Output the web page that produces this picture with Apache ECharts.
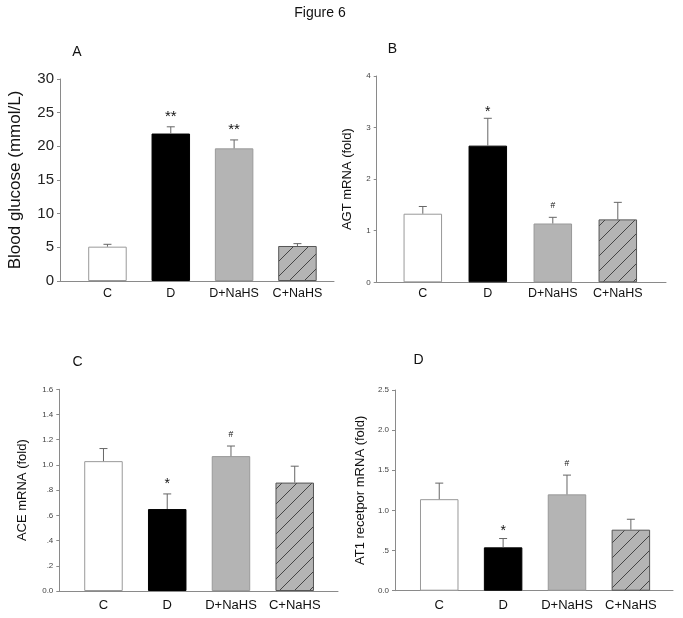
<!DOCTYPE html>
<html lang="en">
<head>
<meta charset="UTF-8">
<title>Figure 6</title>
<script src="https://cdn.jsdelivr.net/npm/echarts@6.0.0/dist/echarts.min.js"></script>
<style>
  html, body { margin: 0; padding: 0; background: #fff; }
  #main { width: 683px; height: 618px; }
</style>
</head>
<body>
<div id="main"></div>
<script>
// groups on the x axis
var categories = ['C', 'D', 'D+NaHS', 'C+NaHS'];

// A: blood glucose (mmol/L)
var glucose = [5.1, 21.9, 19.7, 5.2];
var glucoseErr = [0.35, 1.0, 1.25, 0.35];
var glucoseMarks = ['', '**', '**', ''];
var glucoseTicks = ['0', '5', '10', '15', '20', '25', '30'];

// B: AGT mRNA (fold)
var agt = [1.33, 2.65, 1.14, 1.22];
var agtErr = [0.14, 0.53, 0.12, 0.33];
var agtMarks = ['', '*', '#', ''];
var agtTicks = ['0', '1', '2', '3', '4'];

// C: ACE mRNA (fold)
var ace = [1.03, 0.65, 1.07, 0.86];
var aceErr = [0.10, 0.12, 0.08, 0.13];
var aceMarks = ['', '*', '#', ''];
var aceTicks = ['0.0', '.2', '.4', '.6', '.8', '1.0', '1.2', '1.4', '1.6'];

// D: AT1 receptor mRNA (fold)
var at1 = [1.14, 0.54, 1.20, 0.76];
var at1Err = [0.20, 0.11, 0.24, 0.13];
var at1Marks = ['', '*', '#', ''];
var at1Ticks = ['0.0', '.5', '1.0', '1.5', '2.0', '2.5'];

var FONT = '"Liberation Sans", Arial, sans-serif';
var AXIS_COLOR = '#8a8a8a';

// diagonal hatch for the last bar
function hatch() {
  var s = 15;
  var c = document.createElement('canvas');
  c.width = s; c.height = s;
  var ctx = c.getContext('2d');
  ctx.fillStyle = '#b4b4b4';
  ctx.fillRect(0, 0, s, s);
  ctx.strokeStyle = '#444';
  ctx.lineWidth = 1;
  ctx.beginPath();
  ctx.moveTo(-1, s + 1); ctx.lineTo(s + 1, -1);
  ctx.moveTo(-1, 1); ctx.lineTo(1, -1);
  ctx.moveTo(s - 1, s + 1); ctx.lineTo(s + 1, s - 1);
  ctx.stroke();
  return c;
}
var hatchPattern = { image: hatch(), repeat: 'repeat' };

var barStyles = [
  { color: '#fff', borderColor: '#999', borderWidth: 1 },
  { color: '#000', borderColor: '#000', borderWidth: 1 },
  { color: '#b4b4b4', borderColor: '#999', borderWidth: 1 },
  { color: hatchPattern, borderColor: '#555', borderWidth: 1 }
];

// panel frames: outer = axis lines, inner = category bands
var panels = [
  { values: glucose, err: glucoseErr, marks: glucoseMarks, ticks: glucoseTicks,
    max: 30, interval: 5, name: 'Blood glucose (mmol/L)', nameSize: 17, nameGap: 36,
    tickSize: 15, tickColor: '#222', catSize: 12.5, catMargin: 6,
    outer: { left: 60, top: 79, width: 274, height: 202 },
    inner: { left: 75.8, width: 253.3 },
    starSize: 15, starGap: 13.5, hashSize: 9, hashGap: 11,
    letter: 'A', lx: 77, ly: 52 },
  { values: agt, err: agtErr, marks: agtMarks, ticks: agtTicks,
    max: 4, interval: 1, name: 'AGT mRNA (fold)', nameSize: 13, nameGap: 23,
    tickSize: 8, tickColor: '#444', catSize: 12.5, catMargin: 5,
    outer: { left: 376.7, top: 76, width: 289.3, height: 206.3 },
    inner: { left: 390.3, width: 260 },
    starSize: 14, starGap: 9.3, hashSize: 8.5, hashGap: 11.6,
    letter: 'B', lx: 392.5, ly: 49.5 },
  { values: ace, err: aceErr, marks: aceMarks, ticks: aceTicks,
    max: 1.6, interval: 0.2, name: 'ACE mRNA (fold)', nameSize: 13, nameGap: 30,
    tickSize: 8, tickColor: '#444', catSize: 13, catMargin: 8,
    outer: { left: 59.3, top: 389.3, width: 278.7, height: 201.7 },
    inner: { left: 71.6, width: 255 },
    starSize: 14, starGap: 13.3, hashSize: 8.5, hashGap: 11.3,
    letter: 'C', lx: 77.5, ly: 362 },
  { values: at1, err: at1Err, marks: at1Marks, ticks: at1Ticks,
    max: 2.5, interval: 0.5, name: 'AT1 recetpor mRNA (fold)', nameSize: 13, nameGap: 28.5,
    tickSize: 8, tickColor: '#444', catSize: 13, catMargin: 8,
    outer: { left: 395, top: 390, width: 278, height: 200.7 },
    inner: { left: 407.3, width: 255.5 },
    starSize: 14, starGap: 11.3, hashSize: 8.5, hashGap: 11,
    letter: 'D', lx: 418.5, ly: 360 }
];

var grid = [], xAxis = [], yAxis = [], series = [], graphic = [];

graphic.push({
  type: 'text', x: 320, y: 13,
  style: { text: 'Figure 6', font: '14px ' + FONT, fill: '#111', textAlign: 'center', textVerticalAlign: 'middle' }
});

panels.forEach(function (p, k) {
  var o = 2 * k, n = 2 * k + 1;
  grid.push({ left: p.outer.left, top: p.outer.top, width: p.outer.width, height: p.outer.height, outerBoundsMode: 'none' });
  grid.push({ left: p.inner.left, top: p.outer.top, width: p.inner.width, height: p.outer.height, outerBoundsMode: 'none' });

  xAxis.push({
    gridIndex: o, type: 'value', min: 0, max: 1,
    axisLine: { show: true, lineStyle: { color: AXIS_COLOR, width: 1 } },
    axisTick: { show: false }, axisLabel: { show: false }, splitLine: { show: false }
  });
  xAxis.push({
    gridIndex: n, type: 'category', data: categories,
    axisLine: { show: false }, axisTick: { show: false }, splitLine: { show: false },
    axisLabel: { margin: p.catMargin, fontSize: p.catSize, color: '#111', fontFamily: FONT, interval: 0 }
  });

  yAxis.push({
    gridIndex: o, type: 'value', min: 0, max: p.max, interval: p.interval,
    name: p.name, nameLocation: 'middle', nameGap: p.nameGap,
    nameTextStyle: { fontSize: p.nameSize, color: '#111', fontFamily: FONT },
    axisLine: { show: true, lineStyle: { color: AXIS_COLOR, width: 1 } },
    axisTick: { show: true, length: 3, lineStyle: { color: AXIS_COLOR } },
    splitLine: { show: false },
    axisLabel: {
      margin: 6, fontSize: p.tickSize, color: p.tickColor, fontFamily: FONT,
      formatter: function (v) { return p.ticks[Math.round(v / p.interval)]; }
    }
  });
  yAxis.push({ gridIndex: n, type: 'value', min: 0, max: p.max, show: false });

  series.push({
    type: 'bar', xAxisIndex: n, yAxisIndex: n, barWidth: 38.5, silent: true,
    data: p.values.map(function (v, i) { return { value: v, itemStyle: barStyles[i] }; })
  });

  series.push({
    type: 'custom', xAxisIndex: n, yAxisIndex: n, silent: true, z: 5,
    data: p.values.map(function (v, i) { return [i, v, p.err[i]]; }),
    renderItem: function (params, api) {
      var i = api.value(0);
      var base = api.coord([i, api.value(1)]);
      var top = api.coord([i, api.value(1) + api.value(2)]);
      var mark = p.marks[params.dataIndex];
      var kids = [
        { type: 'line', shape: { x1: base[0], y1: base[1], x2: top[0], y2: top[1] },
          style: { stroke: '#666', lineWidth: 1 } },
        { type: 'line', shape: { x1: top[0] - 4, y1: top[1], x2: top[0] + 4, y2: top[1] },
          style: { stroke: '#666', lineWidth: 1 } }
      ];
      if (mark) {
        var star = mark.charAt(0) === '*';
        var fs = star ? p.starSize : p.hashSize;
        var y = star ? top[1] - p.starGap + 0.25 * fs : top[1] - p.hashGap;
        kids.push({ type: 'text', style: { text: mark, x: top[0], y: y, font: fs + 'px ' + FONT,
          fill: '#111', textAlign: 'center', textVerticalAlign: 'middle' } });
      }
      return { type: 'group', children: kids };
    }
  });

  graphic.push({
    type: 'text', x: p.lx, y: p.ly,
    style: { text: p.letter, font: '14px ' + FONT, fill: '#111', textAlign: 'center', textVerticalAlign: 'middle' }
  });
});

var chart = echarts.init(document.getElementById('main'));
chart.setOption({
  backgroundColor: '#fff',
  animation: false,
  grid: grid,
  xAxis: xAxis,
  yAxis: yAxis,
  series: series,
  graphic: graphic
});
</script>
</body>
</html>
